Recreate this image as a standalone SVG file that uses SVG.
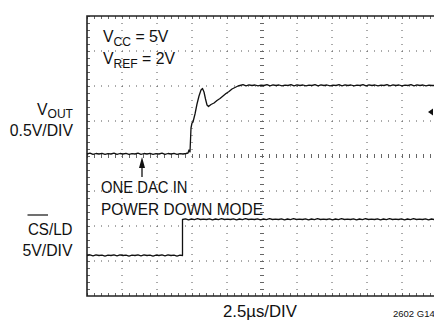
<svg xmlns="http://www.w3.org/2000/svg" width="434" height="327" viewBox="0 0 434 327">
<style>
text{font-family:"Liberation Sans",Arial,sans-serif;font-size:17px;fill:#111}
.sub{font-size:13px}
.small{font-size:9.5px}
.grid{stroke:#555;stroke-width:1;stroke-dasharray:1 6;fill:none}
.tick{stroke:#666;stroke-width:4;stroke-dasharray:1 6;fill:none}
.border{stroke:#222;stroke-width:1.6;fill:none}
.trace{stroke:#111;stroke-width:1.3;fill:none;stroke-linejoin:round}
</style>
<g id="grid">
<path class="grid" d="M122,16V296M157,16V296M192,16V296M227,16V296M262,16V296M297,16V296M332,16V296M367,16V296M402,16V296"/>
<path class="grid" d="M87,51H434M87,86H434M87,121H434M87,156H434M87,191H434M87,226H434M87,261H434"/>
<path class="tick" d="M262,16V296M87,156H434"/>
<path class="tick" style="stroke-width:3" d="M88.5,16V296M87,17.5H434M87,294.5H434"/>
<path class="border" d="M434,16H87V296H434"/>
</g>
<g id="traces">
<path id="vout" class="trace" d="M87,154 l3,-0.8 l3,1.2 l3,-0.9 l3,0.5 l3,-0.6 l3,1 l3,-0.7 l3,0.3 l3,-0.8 l3,1.2 l3,-0.9 l3,0.5 l3,-0.6 l3,1 l3,-0.7 l3,0.3 l3,-0.8 l3,1.2 l3,-0.9 l3,0.5 l3,-0.6 l3,1 l3,-0.7 l3,0.3 l3,-0.8 l3,1.2 l3,-0.9 l3,0.5 l3,-0.6 l3,1 l3,-0.7 l3,0.3 l3,-0.5 L188,153 L189,150 L190,152 L191,128 L192,123 L193,122 L195,114 L197,104 L199,96 L201,90 L202.5,88.5 L204,92 L205.5,99 L207,105 L208.5,106.5 L211,104.5 L214,103 L217,100.5 L220,98.5 L223,96 L226,93.5 L229,91.5 L232,89 L235,87.5 L238,86 L240,85.5 l3,-0.8 l3,1.1 l3,-0.9 l3,0.6 l3,-0.5 l3,0.9 l3,-0.8 l3,0.4 l3,-0.8 l3,1.1 l3,-0.9 l3,0.6 l3,-0.5 l3,0.9 l3,-0.8 l3,0.4 l3,-0.8 l3,1.1 l3,-0.9 l3,0.6 l3,-0.5 l3,0.9 l3,-0.8 l3,0.4 l3,-0.8 l3,1.1 l3,-0.9 l3,0.6 l3,-0.5 l3,0.9 l3,-0.8 l3,0.4 l3,-0.8 l3,1.1 l3,-0.9 l3,0.6 l3,-0.5 l3,0.9 l3,-0.8 l3,0.4 l3,-0.8 l3,1.1 l3,-0.9 l3,0.6 l3,-0.5 l3,0.9 l3,-0.8 l3,0.4 l3,-0.8 l3,1.1 l3,-0.9 l3,0.6 l3,-0.5 l3,0.9 l3,-0.8 l3,0.4 l3,-0.8 l3,1.1 l3,-0.9 l3,0.6 l3,-0.5 l3,0.9 l3,-0.8 l3,0.4 L434,85.5"/>
<path id="cs" class="trace" d="M87,255.5 l3,-0.6 l3,0.9 l3,-1 l3,0.7 l3,-0.4 l3,1 l3,-0.9 l3,0.3 l3,-0.6 l3,0.9 l3,-1 l3,0.7 l3,-0.4 l3,1 l3,-0.9 l3,0.3 l3,-0.6 l3,0.9 l3,-1 l3,0.7 l3,-0.4 l3,1 l3,-0.9 l3,0.3 l3,-0.6 l3,0.9 l3,-1 l3,0.7 l3,-0.4 l3,1 l3,-0.9 l2.5,0.3 L182.5,255.5 L182.5,219.5 l3,-0.7 l3,1 l3,-0.8 l3,0.6 l3,-0.9 l3,0.8 l3,-0.4 l3,0.4 l3,-0.7 l3,1 l3,-0.8 l3,0.6 l3,-0.9 l3,0.8 l3,-0.4 l3,0.4 l3,-0.7 l3,1 l3,-0.8 l3,0.6 l3,-0.9 l3,0.8 l3,-0.4 l3,0.4 l3,-0.7 l3,1 l3,-0.8 l3,0.6 l3,-0.9 l3,0.8 l3,-0.4 l3,0.4 l3,-0.7 l3,1 l3,-0.8 l3,0.6 l3,-0.9 l3,0.8 l3,-0.4 l3,0.4 l3,-0.7 l3,1 l3,-0.8 l3,0.6 l3,-0.9 l3,0.8 l3,-0.4 l3,0.4 l3,-0.7 l3,1 l3,-0.8 l3,0.6 l3,-0.9 l3,0.8 l3,-0.4 l3,0.4 l3,-0.7 l3,1 l3,-0.8 l3,0.6 l3,-0.9 l3,0.8 l3,-0.4 l3,0.4 l3,-0.7 l3,1 l3,-0.8 l3,0.6 l3,-0.9 l3,0.8 l3,-0.4 l3,0.4 l3,-0.7 l3,1 l3,-0.8 l3,0.6 l3,-0.9 l3,0.8 l3,-0.4 l3,0.4 l3,-0.7 l3,1 l3,-0.8 l3,0.6 l3,-0.9 l3,0.8 l3,-0.4 l3,0.4 L434,219.5"/>
<g id="annot-arrow">
<path d="M142,177 V166" stroke="#111" stroke-width="1.3"/>
<polygon points="142,157 139,168 145,168" fill="#111"/>
</g>
<polygon id="gnd-marker" points="428,112 433,108.5 433,115.5" fill="#111"/>
</g>
<g id="label-vcc"><text transform="translate(103,41.5) scale(0.93,1)">V<tspan class="sub" dy="4">CC</tspan><tspan dy="-4"> = 5V</tspan></text></g>
<g id="label-vref"><text transform="translate(103,63.5) scale(0.93,1)">V<tspan class="sub" dy="4">REF</tspan><tspan dy="-4"> = 2V</tspan></text></g>
<g id="label-vout"><text transform="translate(73,114.5) scale(0.93,1)" text-anchor="end">V<tspan class="sub" dy="3">OUT</tspan></text>
<text transform="translate(73,135.5) scale(0.93,1)" text-anchor="end">0.5V/DIV</text></g>
<g id="label-dac"><text transform="translate(101,193) scale(0.92,1)" textLength="94" lengthAdjust="spacingAndGlyphs">ONE DAC IN</text>
<text transform="translate(101,214.5) scale(0.92,1)" textLength="176" lengthAdjust="spacingAndGlyphs">POWER DOWN MODE</text></g>
<g id="label-cs"><line x1="27.5" y1="215" x2="48" y2="215" stroke="#111" stroke-width="1.2"/>
<text transform="translate(72.5,235) scale(0.92,1)" text-anchor="end" textLength="48.5" lengthAdjust="spacingAndGlyphs">CS/LD</text>
<text transform="translate(72.5,256) scale(0.93,1)" text-anchor="end">5V/DIV</text></g>
<g id="label-time"><text transform="translate(223,316.5) scale(0.93,1)" textLength="79.5" lengthAdjust="spacingAndGlyphs">2.5µs/DIV</text></g>
<g id="label-fig"><text class="small" x="393" y="316.5">2602 G14</text></g>
</svg>
